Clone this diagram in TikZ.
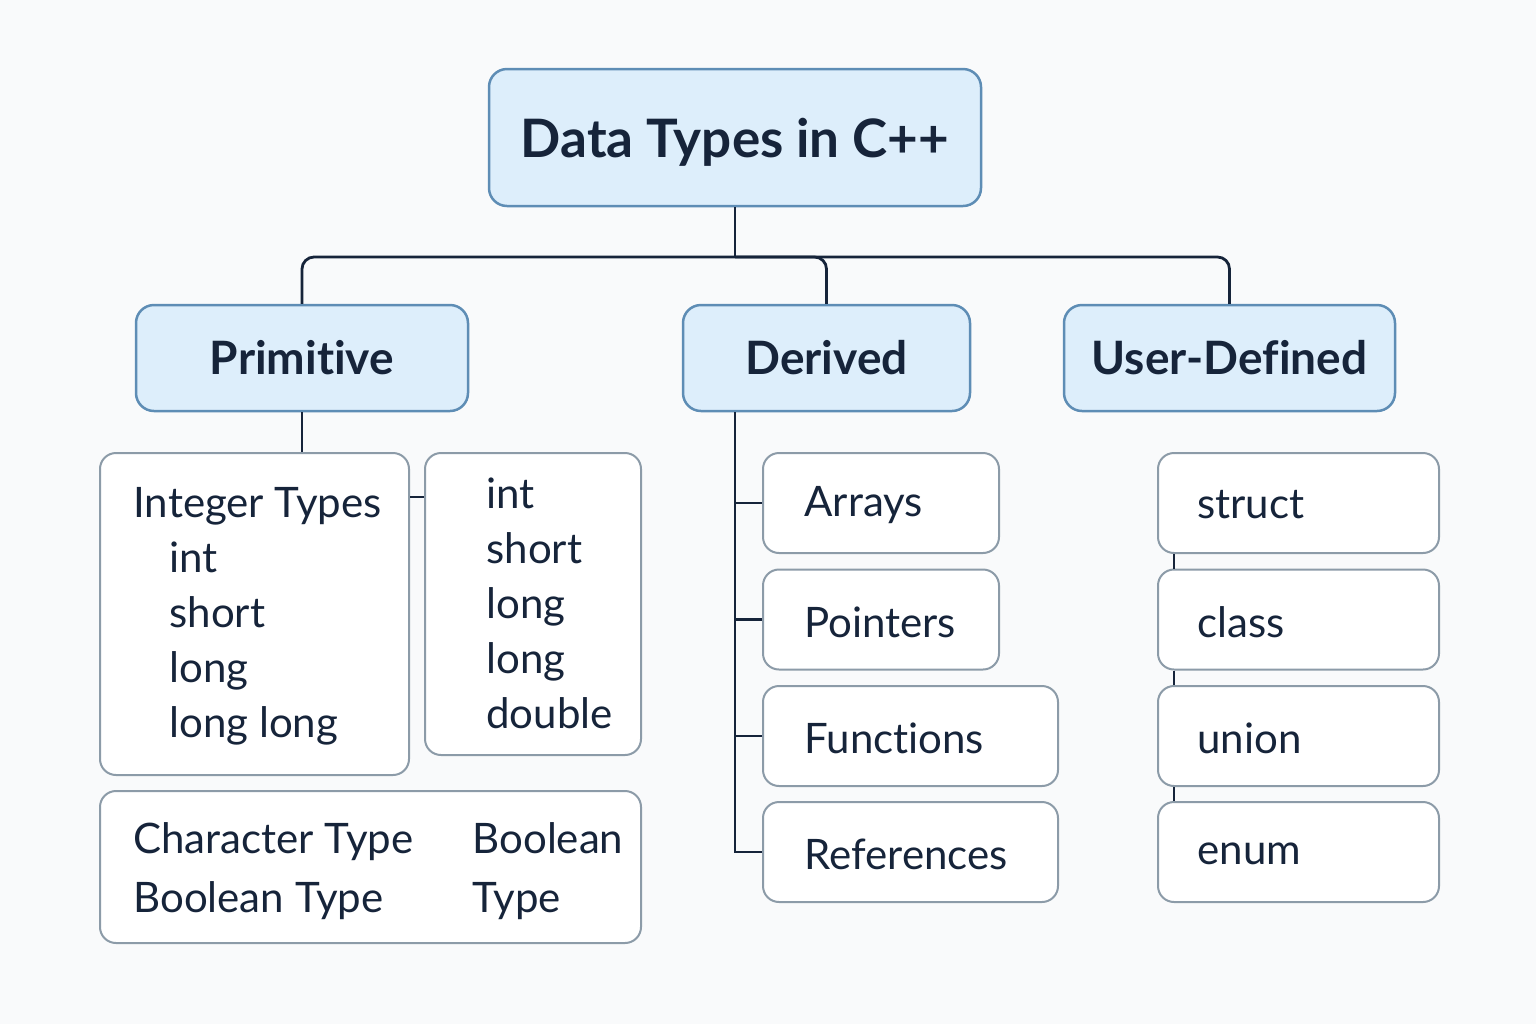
\documentclass[tikz,border=0pt]{standalone}
\usepackage{fontspec}
\setmainfont{Lato}[Ligatures=NoCommon]
\usepackage{tikz}

\definecolor{navy}{RGB}{22,36,58}
\definecolor{headfill}{RGB}{221,238,251}
\definecolor{headline}{RGB}{94,141,181}
\definecolor{leafline}{RGB}{140,155,168}
\definecolor{paper}{RGB}{249,250,251}

\begin{document}
\begin{tikzpicture}[x=0.5pt,y=0.5pt,yscale=-1,xscale=1,
    head/.style={draw=headline, fill=headfill, line width=1.25pt, rounded corners=9pt, inner sep=0pt, text=navy, font=\fontsize{23}{28}\selectfont\bfseries},
    leaf/.style={draw=leafline, fill=white, line width=1pt, rounded corners=8pt, inner sep=0pt},
    label/.style={inner sep=0pt, text=navy, align=left, font=\fontsize{21}{27.5}\selectfont},
    conn/.style={draw=navy, line width=1.4pt}]
    %set diagram to the full page
    \fill[paper] (0,0) rectangle (1536,1024);

    %Shape: Title boxes
    \node [head, minimum width=246pt, minimum height=68.5pt, text depth=0pt, font=\fontsize{26.5}{32}\selectfont\bfseries] (root) at (735,137.5) {Data Types in C++};
    \node [head, minimum width=166pt, minimum height=53pt] (prim) at (302,358) {Primitive};
    \node [head, minimum width=143.5pt, minimum height=53pt] (der) at (826.5,358) {Derived};
    \node [head, minimum width=165.5pt, minimum height=53pt] (ud) at (1229.5,358) {User-Defined};

    %Shape: Primitive boxes
    \node [leaf, minimum width=154.5pt, minimum height=161pt] (intbox) at (254.5,614) {};
    \node [leaf, minimum width=108pt, minimum height=151pt] (longbox) at (533,604) {};
    \node [leaf, minimum width=270.5pt, minimum height=76pt] (charbox) at (370.5,867) {};

    %Shape: Derived boxes
    \node [leaf, minimum width=118pt, minimum height=50pt] (arrbox) at (881,503) {};
    \node [leaf, minimum width=118pt, minimum height=50pt] (ptrbox) at (881,619.5) {};
    \node [leaf, minimum width=147.5pt, minimum height=50pt] (funbox) at (910.5,736) {};
    \node [leaf, minimum width=147.5pt, minimum height=50pt] (refbox) at (910.5,852) {};

    %Shape: User-Defined boxes
    \node [leaf, minimum width=140.5pt, minimum height=50pt] (stbox) at (1298.5,503) {};
    \node [leaf, minimum width=140.5pt, minimum height=50pt] (clbox) at (1298.5,619.5) {};
    \node [leaf, minimum width=140.5pt, minimum height=50pt] (unbox) at (1298.5,736) {};
    \node [leaf, minimum width=140.5pt, minimum height=50pt] (enbox) at (1298.5,852) {};

    % Text Node
    \node [label, anchor=west] (inttxt) at (133,616) {Integer Types\\\hspace*{18pt}int\\\hspace*{18pt}short\\\hspace*{18pt}long\\\hspace*{18pt}long long};
    % Text Node
    \node [label, anchor=west] (longtxt) at (486,603) {int\\short\\long\\long\\double};
    % Text Node
    \node [label, anchor=west, font=\fontsize{21}{29.5}\selectfont] (chartxt) at (133,871) {\makebox[169.5pt][l]{Character Type}Boolean\\\makebox[169.5pt][l]{Boolean Type}Type};
    % Text Node
    \node [label, anchor=west] (arrtxt) at (804,505) {Arrays};
    \node [label, anchor=west] (ptrtxt) at (804,622) {Pointers};
    \node [label, anchor=west] (funtxt) at (804,738) {Functions};
    \node [label, anchor=west] (reftxt) at (804,854) {References};
    % Text Node
    \node [label, anchor=west] (sttxt) at (1197,505) {struct};
    \node [label, anchor=west] (cltxt) at (1197,622) {class};
    \node [label, anchor=west] (untxt) at (1197,738) {union};
    \node [label, anchor=west] (entxt) at (1197,854) {enum};

    %Connectors
    \coordinate (bus) at (735,257);
    \coordinate (tick) at (417,497);
    \coordinate (trunkx) at (735,0);
    \coordinate (udx) at (1174,0);
    \draw [conn] (root.south) -- (bus);
    \draw [conn, rounded corners=6pt] (prim.north) |- (bus) -| (ud.north);
    \draw [conn, rounded corners=6pt] (bus) -| (der.north);
    \draw [conn] (prim.south) -- (prim.south |- intbox.north);
    \draw [conn] (intbox.east |- tick) -- (longbox.west |- tick);
    \draw [conn] (der.south -| trunkx) |- (refbox.west);
    \foreach \b in {arrbox,ptrbox,funbox}
        \draw [conn] (trunkx |- \b.west) -- (\b.west);
    \foreach \a/\b in {stbox/clbox,clbox/unbox,unbox/enbox}
        \draw [conn] (\a.south -| udx) -- (\b.north -| udx);
\end{tikzpicture}
\end{document}
